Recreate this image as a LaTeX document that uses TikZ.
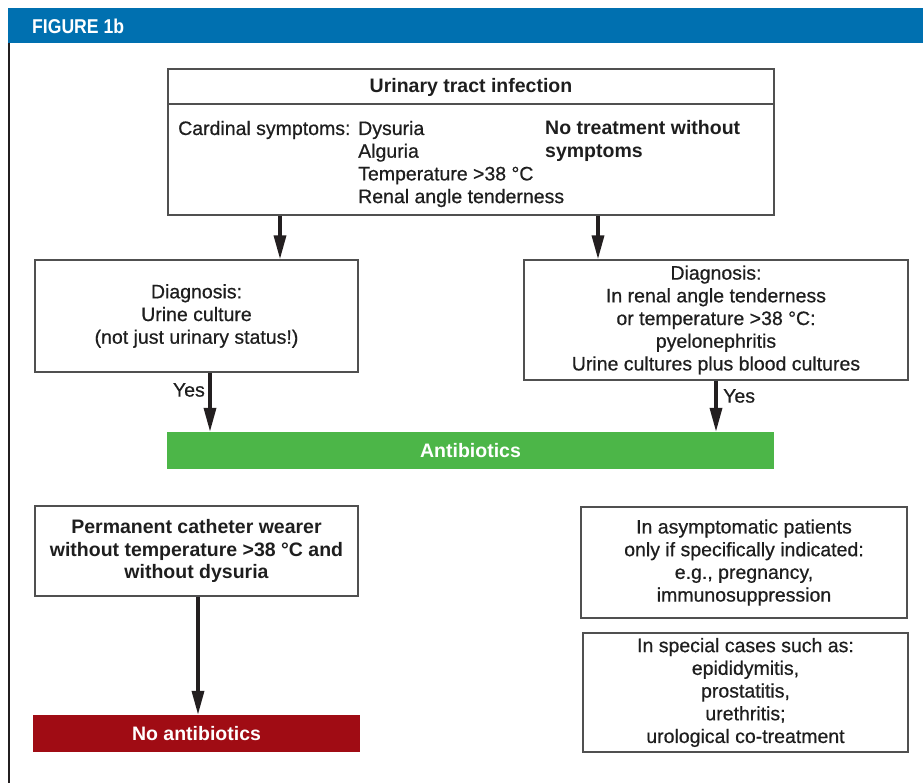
\documentclass[tikz,border=0pt]{standalone}
\usepackage{fontspec}
\setmainfont{Liberation Sans}[UprightFeatures={FakeBold=0.6}]
\newfontfamily\hdrfont{Liberation Sans}[FakeStretch=0.88]
\usetikzlibrary{arrows.meta,calc}
\definecolor{hdrblue}{RGB}{0,112,176}
\definecolor{abgreen}{RGB}{76,182,72}
\definecolor{noabred}{RGB}{160,12,20}
\definecolor{boxgray}{RGB}{80,80,80}
\definecolor{arrowdark}{RGB}{35,31,32}
\definecolor{txtdark}{RGB}{30,30,30}
\newcommand\figtxt{\fontsize{19.5}{22.7}\selectfont}
\begin{document}
\begin{tikzpicture}[x=1pt,y=-1pt,
  box/.style={draw=boxgray,line width=1.4pt,inner sep=0pt,align=center,font=\figtxt,text=txtdark},
  bar/.style={inner sep=0pt,align=center,font=\figtxt\bfseries,text=white},
  plain/.style={inner sep=0pt,font=\figtxt,text=txtdark},
  arr/.style={draw=arrowdark,line width=3.5pt,-{Triangle[length=24pt,width=12pt]}}]
\useasboundingbox (0,0) rectangle (923,783);
% header
\fill[hdrblue] (8,8) rectangle (923,43);
\node[inner sep=0pt,font=\hdrfont\fontsize{20}{22}\selectfont\bfseries,text=white,anchor=west] (hdr) at (32,26) {FIGURE 1b};
\draw[arrowdark,line width=2pt] (9,43) -- (9,783);
% top box
\node[box,minimum width=606pt,minimum height=146pt] (top) at (471,142) {};
\draw[boxgray,line width=1.4pt] (top.west |- 0,104) -- (top.east |- 0,104);
\node[plain,font=\figtxt\bfseries] (title) at (471,87) {Urinary tract infection};
\node[plain,anchor=base west] (card) at (178,135) {Cardinal symptoms:};
\node[plain,anchor=base west] (s1) at (358,135) {Dysuria};
\node[plain,anchor=base west] (s2) at (358,157.7) {Alguria};
\node[plain,anchor=base west] (s3) at (358,180.4) {Temperature >38 °C};
\node[plain,anchor=base west] (s4) at (358,203.1) {Renal angle tenderness};
\node[plain,font=\figtxt\bfseries,anchor=base west] (nt1) at (545,135) {No treatment without};
\node[plain,font=\figtxt\bfseries,anchor=base west] (nt2) at (545,157.7) {symptoms};
% diagnosis boxes
\node[box,minimum width=323pt,minimum height=112pt] (diagL) at (196.5,316) {Diagnosis:\\Urine culture\\(not just urinary status!)};
\node[box,minimum width=384pt,minimum height=120pt] (diagR) at (716,320) {Diagnosis:\\In renal angle tenderness\\or temperature >38 °C:\\pyelonephritis\\Urine cultures plus blood cultures};
% antibiotics bar
\node[bar,fill=abgreen,minimum width=607pt,minimum height=37pt] (ab) at (470.5,450.5) {Antibiotics};
% lower boxes
\node[box,font=\figtxt\bfseries,minimum width=323pt,minimum height=90pt] (cath) at (196.5,551) {Permanent catheter wearer\\without temperature >38 °C and\\without dysuria};
\node[bar,fill=noabred,minimum width=327pt,minimum height=37pt] (noab) at (196.5,733.5) {No antibiotics};
\node[box,minimum width=326pt,minimum height=111pt] (asym) at (744,562.5) {In asymptomatic patients\\only if specifically indicated:\\e.g., pregnancy,\\immunosuppression};
\node[box,minimum width=325pt,minimum height=119pt] (spec) at (745.5,692.5) {In special cases such as:\\epididymitis,\\prostatitis,\\urethritis;\\urological co-treatment};
% arrow columns
\coordinate (c1) at (280,0);
\coordinate (c2) at (598,0);
\coordinate (c3) at (210,0);
\coordinate (c4) at (716,0);
\coordinate (c5) at (198,0);
\draw[arr] (top.south -| c1) -- (diagL.north -| c1);
\draw[arr] (top.south -| c2) -- (diagR.north -| c2);
\draw[arr] (diagL.south -| c3) -- (ab.north -| c3);
\draw[arr] (diagR.south -| c4) -- (ab.north -| c4);
\draw[arr] (cath.south -| c5) -- (noab.north -| c5);
\node[plain,anchor=east] (yes1) at (205,390) {Yes};
\node[plain,anchor=west] (yes2) at (723,396) {Yes};
\end{tikzpicture}
\end{document}
